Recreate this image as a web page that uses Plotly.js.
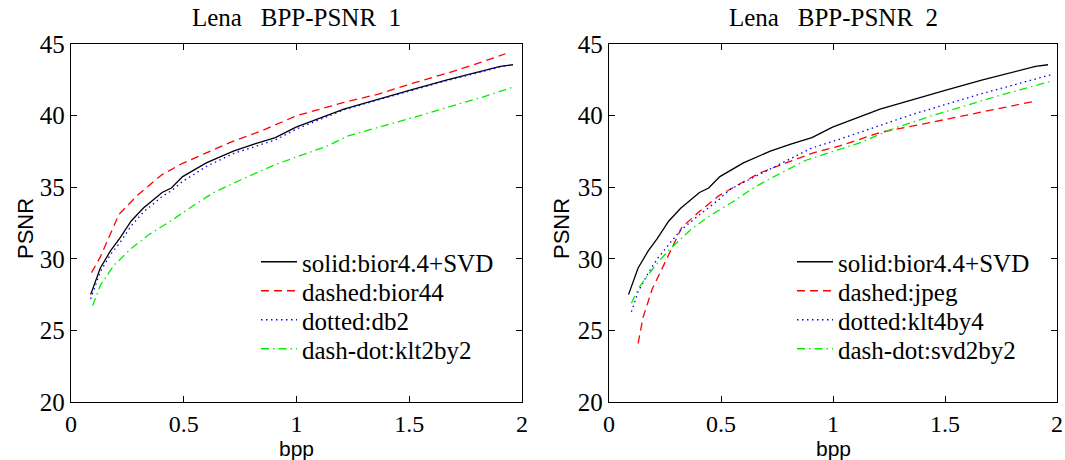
<!DOCTYPE html>
<html>
<head>
<meta charset="utf-8">
<script src="https://cdn.plot.ly/plotly-3.0.1.min.js"></script>
<style>html,body{margin:0;padding:0;background:#fff;}#chart{width:1065px;height:460px;}</style>
</head>
<body>
<div id="chart"></div>
<script>
const leftTitle = "Lena\u00a0\u00a0\u00a0BPP-PSNR\u00a0\u00a01";
const rightTitle = "Lena\u00a0\u00a0\u00a0BPP-PSNR\u00a0\u00a02";
const xLabel = "bpp";
const yLabel = "PSNR";

// ---- Left panel: Lena BPP-PSNR 1 ----
const svdX = [0.087,0.13,0.175,0.216,0.267,0.32,0.404,0.445,0.495,0.60,0.72,0.815,0.906,0.998,1.21,1.363,1.516,1.668,1.82,1.904,1.96];
const svdY = [27.5,29.36,30.55,31.42,32.64,33.53,34.63,34.94,35.74,36.70,37.52,38.03,38.46,39.2,40.45,41.15,41.83,42.49,43.1,43.43,43.55];

const bior44X = [0.091,0.13,0.213,0.297,0.404,0.495,0.60,0.72,0.845,0.998,1.21,1.363,1.516,1.668,1.82,1.927];
const bior44Y = [29.03,30.13,33.11,34.47,35.88,36.67,37.4,38.22,38.93,39.98,40.92,41.5,42.26,42.96,43.73,44.32];

const db2X = [0.087,0.13,0.175,0.216,0.267,0.32,0.404,0.445,0.495,0.60,0.72,0.815,0.906,0.998,1.21,1.363,1.516,1.668,1.82,1.904,1.96];
const db2Y = [27.2,29.1,30.3,31.1,32.3,33.25,34.35,34.75,35.4,36.45,37.35,37.85,38.3,39.05,40.4,41.1,41.8,42.45,43.05,43.4,43.55];

const klt2X = [0.096,0.13,0.19,0.267,0.343,0.449,0.541,0.632,0.754,0.906,0.998,1.135,1.226,1.363,1.516,1.668,1.82,1.957];
const klt2Y = [26.73,28.14,29.54,30.72,31.66,32.71,33.7,34.62,35.52,36.58,37.1,37.87,38.57,39.16,39.86,40.57,41.27,41.97];

// ---- Right panel: Lena BPP-PSNR 2 ----
const jpegX = [0.13,0.152,0.192,0.25,0.325,0.406,0.488,0.592,0.674,0.808,0.912,1.03,1.21,1.508,1.805,1.909];
const jpegY = [24.1,25.9,27.85,29.8,32.2,33.33,34.38,35.31,36.0,36.8,37.4,37.88,38.82,39.75,40.68,41.03];

const klt4X = [0.1,0.13,0.175,0.216,0.267,0.32,0.406,0.488,0.54,0.726,0.9,1.02,1.358,1.656,1.984];
const klt4Y = [26.3,27.7,29.0,30.0,31.0,32.0,33.1,34.1,34.85,36.3,37.7,38.3,40.1,41.5,42.9];

const svd2X = [0.1,0.13,0.175,0.216,0.267,0.362,0.449,0.555,0.64,0.719,0.882,1.02,1.12,1.254,1.433,1.731,1.984];
const svd2Y = [26.9,27.9,28.9,29.7,30.6,32.0,33.0,34.0,34.9,35.6,36.9,37.6,38.1,39.0,39.95,41.35,42.45];

const leftNames = ["solid:bior4.4+SVD","dashed:bior44","dotted:db2","dash-dot:klt2by2"];
const rightNames = ["solid:bior4.4+SVD","dashed:jpeg","dotted:klt4by4","dash-dot:svd2by2"];

const xTicks = [0,0.5,1,1.5,2];
const xTickText = ["0","0.5","1","1.5","2"];
const yTicks = [20,25,30,35,40,45];

const serif = "Liberation Serif";
const sans = "Liberation Sans";

const styles = [
  {color:"#000000", dash:"solid"},
  {color:"#ff0000", dash:"8px,5px"},
  {color:"#0000ff", dash:"1.5px,3.5px"},
  {color:"#00ee00", dash:"8px,4px,1.5px,4px"}
];

function tr(x,y,name,i,xa,ya,leg){
  return {x:x,y:y,name:name,type:"scatter",mode:"lines",xaxis:xa,yaxis:ya,legend:leg,
    line:{color:styles[i].color,dash:styles[i].dash,width:1.3},hoverinfo:"skip"};
}

const data = [
  tr(svdX,svdY,leftNames[0],0,"x","y","legend"),
  tr(bior44X,bior44Y,leftNames[1],1,"x","y","legend2"),
  tr(db2X,db2Y,leftNames[2],2,"x","y","legend3"),
  tr(klt2X,klt2Y,leftNames[3],3,"x","y","legend4"),
  tr(svdX,svdY,rightNames[0],0,"x2","y2","legend5"),
  tr(jpegX,jpegY,rightNames[1],1,"x2","y2","legend6"),
  tr(klt4X,klt4Y,rightNames[2],2,"x2","y2","legend7"),
  tr(svd2X,svd2Y,rightNames[3],3,"x2","y2","legend8")
];

function xax(domain, anchor){
  return {domain:domain, anchor:anchor, range:[0,2], tickvals:xTicks, ticktext:xTickText,
    ticks:"inside", ticklen:6, tickcolor:"#000", showline:true, linecolor:"#000", linewidth:1.2,
    mirror:"ticks", showgrid:false, zeroline:false,
    tickfont:{family:serif,size:24,color:"#000"}};
}
function yax(domain, anchor){
  return {domain:domain, anchor:anchor, range:[20,45], tickvals:yTicks,
    ticks:"inside", ticklen:6, tickcolor:"#000", showline:true, linecolor:"#000", linewidth:1.2,
    mirror:"ticks", showgrid:false, zeroline:false,
    tickfont:{family:serif,size:25,color:"#000"}};
}

function leg(xpx, ycpx){
  return {x:xpx/1065, xanchor:"left", y:1-ycpx/460, yanchor:"middle", bgcolor:"rgba(0,0,0,0)",
    font:{family:serif,size:25,color:"#000"}, itemwidth:36};
}

function note(text, xpx, ypx, size, fam, angle){
  return {text:text, xref:"paper", yref:"paper", x:xpx/1065, y:1-ypx/460, xanchor:"center", yanchor:"middle",
    showarrow:false, textangle:angle||0, font:{family:fam,size:size,color:"#000"}};
}

const ydom = [1-402/460, 1-44/460];
const rowY = [262, 291, 320, 349];
const layout = {
  width:1065, height:460,
  margin:{l:0,r:0,t:0,b:0},
  paper_bgcolor:"#fff", plot_bgcolor:"#fff",
  showlegend:true,
  xaxis: xax([71/1065, 522/1065], "y"),
  yaxis: yax(ydom, "x"),
  xaxis2: xax([609/1065, 1057/1065], "y2"),
  yaxis2: yax(ydom, "x2"),
  legend: leg(256, rowY[0]),
  legend2: leg(256, rowY[1]),
  legend3: leg(256, rowY[2]),
  legend4: leg(256, rowY[3]),
  legend5: leg(792, rowY[0]),
  legend6: leg(792, rowY[1]),
  legend7: leg(792, rowY[2]),
  legend8: leg(792, rowY[3]),
  annotations:[
    note(leftTitle, (71+522)/2, 17, 25, serif),
    note(rightTitle, (609+1057)/2, 17, 25, serif),
    note(xLabel, (71+522)/2, 448, 21, sans),
    note(xLabel, (609+1057)/2, 448, 21, sans),
    note(yLabel, 25, 229, 22, sans, -90),
    note(yLabel, 561, 229, 22, sans, -90)
  ]
};

Plotly.newPlot("chart", data, layout, {staticPlot:true, displayModeBar:false});
</script>
</body>
</html>
